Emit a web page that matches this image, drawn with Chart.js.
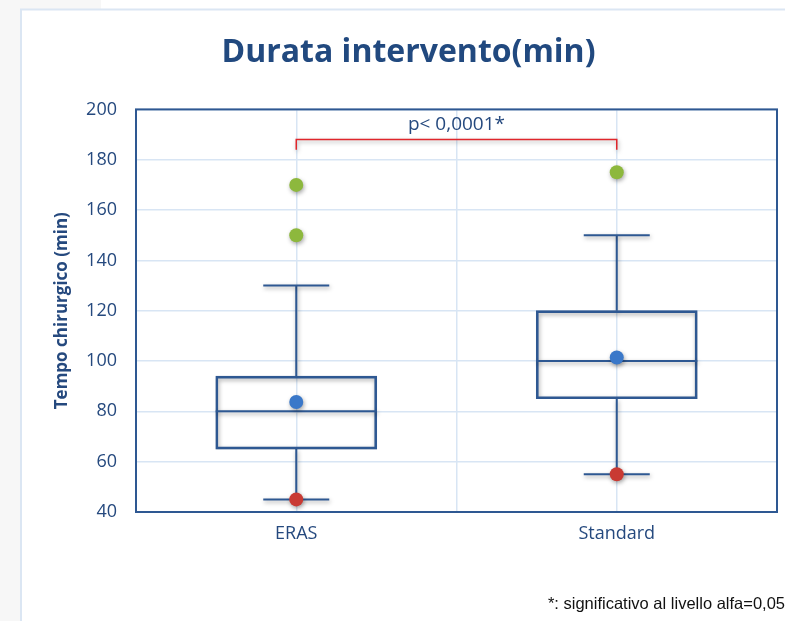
<!DOCTYPE html>
<html><head><meta charset="utf-8">
<script src="https://cdn.jsdelivr.net/npm/chart.js@4"></script>
<style>html,body{margin:0;padding:0;background:#fff}#c{display:block}</style>
</head><body>
<canvas id="c" width="785" height="621"></canvas>
<script>
// ---- data ----
const categories = ['ERAS', 'Standard'];
const catPos = [1, 3];
const whiskerLow = [45, 55];
const q1 = [65, 85];
const median = [80, 100];
const q3 = [94, 120];
const whiskerHigh = [130, 150];
const means = [83.7, 101.4];
const minimums = [45, 55];
const outliers = [[170, 150], [175]];
const bracketTop = 188, bracketBottom = 184, pLabelY = 194;
const pLabel = 'p< 0,0001*';
const yTicks = { min: 40, max: 200, step: 20 };
const chartTitle = 'Durata intervento(min)';
const yTitle = 'Tempo chirurgico (min)';
const footnote = '*: significativo al livello alfa=0,05';

const BLUE = '#2e5892';
const TEXT = '#25497e';

// derived datasets
const boxData = catPos.map((x, i) => ({ x: x, y: [q1[i], q3[i]] }));
const medianData = catPos.map((x, i) => ({ x: x, y: median[i] }));
const capData = [];
catPos.forEach((x, i) => { capData.push({ x: x, y: whiskerLow[i] }); capData.push({ x: x, y: whiskerHigh[i] }); });
const whiskerData = [];
catPos.forEach((x, i) => {
  whiskerData.push({ x: x, y: whiskerLow[i] }, { x: x, y: q1[i] }, { x: x, y: null },
                   { x: x, y: q3[i] }, { x: x, y: whiskerHigh[i] }, { x: x, y: null });
});
const outlierData = [];
catPos.forEach((x, i) => outliers[i].forEach(v => outlierData.push({ x: x, y: v })));
const meanData = catPos.map((x, i) => ({ x: x, y: means[i] }));
const minData = catPos.map((x, i) => ({ x: x, y: minimums[i] }));
const bracketData = [
  { x: catPos[0], y: bracketBottom }, { x: catPos[0], y: bracketTop },
  { x: catPos[1], y: bracketTop }, { x: catPos[1], y: bracketBottom }
];

const bgPlugin = {
  id: 'bg',
  beforeDraw(chart) {
    const ctx = chart.ctx;
    ctx.save();
    ctx.fillStyle = '#f7f7f7';
    ctx.fillRect(0, 0, 785, 621);
    ctx.fillStyle = '#ffffff';
    ctx.fillRect(101, 0, 684, 10);
    ctx.fillRect(21, 9, 764, 612);
    ctx.strokeStyle = '#dbe6f3';
    ctx.lineWidth = 2;
    ctx.beginPath();
    ctx.moveTo(21, 621); ctx.lineTo(21, 9.5); ctx.lineTo(785, 9.5);
    ctx.stroke();
    ctx.restore();
  },
  beforeDatasetsDraw(chart) {
    const a = chart.chartArea, ctx = chart.ctx;
    ctx.save();
    ctx.strokeStyle = BLUE;
    ctx.lineWidth = 2;
    ctx.strokeRect(a.left, a.top, a.right - a.left, a.bottom - a.top);
    ctx.restore();
  }
};

const shadowPlugin = {
  id: 'shadow',
  beforeDatasetDraw(chart, args) {
    const ctx = chart.ctx;
    ctx.save();
    ctx.shadowColor = 'rgba(0,0,0,0.35)';
    ctx.shadowBlur = 4;
    ctx.shadowOffsetX = 1;
    ctx.shadowOffsetY = 2;
  },
  afterDatasetDraw(chart) { chart.ctx.restore(); }
};

const textPlugin = {
  id: 'texts',
  afterDraw(chart) {
    const ctx = chart.ctx;
    const xs = chart.scales.x, ys = chart.scales.y;
    ctx.save();
    ctx.fillStyle = TEXT;
    ctx.font = '19px "Open Sans", sans-serif';
    ctx.textAlign = 'center';
    ctx.textBaseline = 'middle';
    ctx.fillText(pLabel, xs.getPixelForValue((catPos[0] + catPos[1]) / 2), ys.getPixelForValue(pLabelY));
    ctx.fillStyle = '#111';
    ctx.font = '16.5px "Liberation Sans", Arial, sans-serif';
    ctx.textAlign = 'right';
    ctx.textBaseline = 'alphabetic';
    ctx.fillText(footnote, 785, 609);
    ctx.restore();
  }
};

new Chart(document.getElementById('c'), {
  data: {
    datasets: [
      { type: 'bar', data: boxData, backgroundColor: 'rgba(255,255,255,0)', borderColor: BLUE,
        borderWidth: 2, borderSkipped: false, barThickness: 161, order: 5 },
      { type: 'line', data: whiskerData, borderColor: BLUE, borderWidth: 2, pointRadius: 0,
        spanGaps: false, order: 6 },
      { type: 'scatter', data: medianData, pointStyle: 'line', radius: 80.5, borderColor: BLUE,
        borderWidth: 2, order: 4 },
      { type: 'scatter', data: capData, pointStyle: 'line', radius: 33, borderColor: BLUE,
        borderWidth: 2, order: 4 },
      { type: 'line', data: bracketData, borderColor: '#e0262b', borderWidth: 1.5, pointRadius: 0, order: 3 },
      { type: 'scatter', data: outlierData, pointRadius: 7, backgroundColor: '#8db83d', borderWidth: 0, order: 1 },
      { type: 'scatter', data: meanData, pointRadius: 7, backgroundColor: '#3a78c9', borderWidth: 0, order: 1 },
      { type: 'scatter', data: minData, pointRadius: 7, backgroundColor: '#c93a33', borderWidth: 0, order: 1 }
    ]
  },
  options: {
    responsive: false,
    animation: false,
    layout: { autoPadding: false, padding: { left: 40, right: 8, top: 0, bottom: 0 } },
    plugins: {
      legend: { display: false },
      tooltip: { enabled: false },
      title: {
        display: true, text: chartTitle, color: '#21497f',
        font: { family: '"Open Sans", sans-serif', size: 32, weight: 'bold' },
        padding: { top: 34, bottom: 37 }
      }
    },
    scales: {
      x: {
        type: 'linear', min: 0, max: 4, offset: false,
        afterFit(s) { s.height = 109; s.paddingLeft = 0; s.paddingRight = 0; },
        border: { display: false },
        grid: { color: '#d8e5f4', lineWidth: 1.5, drawTicks: false, offset: false },
        ticks: {
          stepSize: 1, padding: 11, color: TEXT,
          font: { family: '"Open Sans", sans-serif', size: 18 },
          callback(v) { const i = catPos.indexOf(v); return i >= 0 ? categories[i] : ''; }
        }
      },
      y: {
        min: yTicks.min, max: yTicks.max,
        afterFit(s) { s.width = 96; },
        border: { display: false },
        grid: { color: '#d8e5f4', lineWidth: 1.5, drawTicks: false },
        ticks: { stepSize: yTicks.step, padding: 19, color: TEXT,
          font: { family: '"Open Sans", sans-serif', size: 18 } },
        title: { display: true, text: yTitle, color: TEXT, padding: { top: 12 },
          font: { family: '"Open Sans", sans-serif', size: 17, weight: 'bold' } }
      }
    }
  },
  plugins: [bgPlugin, shadowPlugin, textPlugin]
});
</script>
</body></html>
